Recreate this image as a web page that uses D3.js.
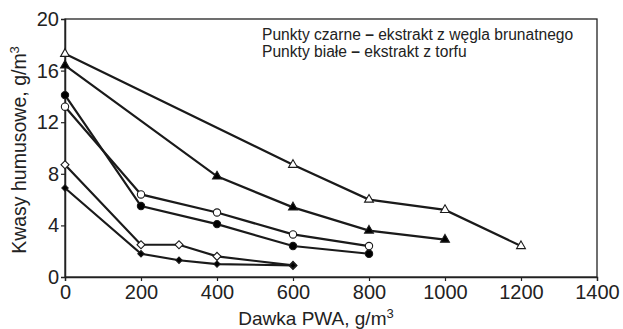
<!DOCTYPE html>
<html>
<head>
<meta charset="utf-8">
<script src="https://cdn.jsdelivr.net/npm/d3@7"></script>
<style>
  body { margin: 0; background: #fff; }
  svg { display: block; font-family: "Liberation Sans", Arial, sans-serif; }
</style>
</head>
<body>
<div id="chart"></div>
<script>
// dose of PWA, g/m3 and humic acid content, g/m3
var openTriX = [0, 600, 800, 1000, 1200];
var openTriY = [17.3, 8.7, 6.0, 5.2, 2.4];
var fillTriX = [0, 400, 600, 800, 1000];
var fillTriY = [16.4, 7.8, 5.4, 3.6, 2.9];
var openCircX = [0, 200, 400, 600, 800];
var openCircY = [13.2, 6.4, 5.0, 3.3, 2.4];
var fillCircX = [0, 200, 400, 600, 800];
var fillCircY = [14.1, 5.5, 4.1, 2.4, 1.8];
var openDiaX = [0, 200, 300, 400, 600];
var openDiaY = [8.7, 2.5, 2.5, 1.6, 0.9];
var fillDiaX = [0, 200, 300, 400, 600];
var fillDiaY = [6.9, 1.8, 1.3, 1.0, 0.9];

var xTicks = [0, 200, 400, 600, 800, 1000, 1200, 1400];
var yTicks = [0, 4, 8, 12, 16, 20];
var legendLines = ["Punkty czarne", "Punkty białe"];
var legendTexts = ["ekstrakt z węgla brunatnego", "ekstrakt z torfu"];

var w = 623, h = 329;
var mLeft = 65, mRight = 597, mTop = 19, mBottom = 277;

var series = [
  {x: openTriX, y: openTriY, sym: d3.symbolTriangle, fill: "#fff", size: 34, rot: 0},
  {x: fillTriX, y: fillTriY, sym: d3.symbolTriangle, fill: "#000", size: 34, rot: 0},
  {x: openCircX, y: openCircY, sym: d3.symbolCircle, fill: "#fff", size: 42, rot: 0},
  {x: fillCircX, y: fillCircY, sym: d3.symbolCircle, fill: "#000", size: 42, rot: 0},
  {x: openDiaX, y: openDiaY, sym: d3.symbolSquare, fill: "#fff", size: 32, rot: 45},
  {x: fillDiaX, y: fillDiaY, sym: d3.symbolSquare, fill: "#000", size: 20, rot: 45}
];

var svg = d3.select("#chart").append("svg")
  .attr("width", w)
  .attr("height", h);

var xScale = d3.scaleLinear().domain([0, 1400]).range([mLeft, mRight]);
var yScale = d3.scaleLinear().domain([0, 20]).range([mBottom, mTop]);

// frame
svg.append("rect")
  .attr("x", mLeft).attr("y", mTop)
  .attr("width", mRight - mLeft).attr("height", mBottom - mTop)
  .attr("fill", "none")
  .attr("stroke", "#222")
  .attr("stroke-width", 1.3);

var xAxis = d3.axisBottom(xScale).tickValues(xTicks).tickFormat(d3.format("d"))
  .tickSize(4).tickPadding(4);
var yAxis = d3.axisLeft(yScale).tickValues(yTicks).tickFormat(d3.format("d"))
  .tickSize(4).tickPadding(2);

var gx = svg.append("g").attr("transform", "translate(0," + mBottom + ")").call(xAxis);
var gy = svg.append("g").attr("transform", "translate(" + mLeft + ",0)").call(yAxis);

[gx, gy].forEach(function(g) {
  g.select(".domain").attr("stroke", "#222").attr("stroke-width", 1.5);
  g.selectAll(".tick line").attr("stroke", "#222").attr("stroke-width", 1.2);
  g.selectAll(".tick text")
    .attr("fill", "#222")
    .style("font-size", "20px")
    .style("font-family", "Liberation Sans, Arial, sans-serif");
});
gx.selectAll(".tick").filter(function(d) { return d === 0 || d === 1400; }).select("line").remove();
gy.selectAll(".tick").filter(function(d) { return d === 0 || d === 20; }).select("line").remove();

// axis titles
var xt = svg.append("text")
  .attr("x", 316).attr("y", 325)
  .attr("text-anchor", "middle")
  .attr("fill", "#222")
  .style("font-size", "19px");
xt.append("tspan").text("Dawka PWA, g/m");
xt.append("tspan").attr("dy", -7).style("font-size", "13px").text("3");

var yt = svg.append("text")
  .attr("transform", "translate(26,150) rotate(-90)")
  .attr("text-anchor", "middle")
  .attr("fill", "#222")
  .style("font-size", "19.5px");
yt.append("tspan").text("Kwasy humusowe, g/m");
yt.append("tspan").attr("dy", -7).style("font-size", "13px").text("3");

// lines and markers
var line = d3.line()
  .x(function(d) { return xScale(d[0]); })
  .y(function(d) { return yScale(d[1]); });

series.forEach(function(s) {
  var pts = s.x.map(function(v, i) { return [v, s.y[i]]; });
  svg.append("path")
    .attr("d", line(pts))
    .attr("fill", "none")
    .attr("stroke", "#1a1a1a")
    .attr("stroke-width", 2.2);
});

series.forEach(function(s) {
  var pts = s.x.map(function(v, i) { return [v, s.y[i]]; });
  svg.append("g").selectAll("path")
    .data(pts)
    .enter().append("path")
    .attr("d", d3.symbol().type(s.sym).size(s.size))
    .attr("transform", function(d) {
      return "translate(" + xScale(d[0]) + "," + yScale(d[1]) + ") rotate(" + s.rot + ")";
    })
    .attr("fill", s.fill)
    .attr("stroke", "#1a1a1a")
    .attr("stroke-width", 1.1);
});

// legend note
legendLines.forEach(function(t, i) {
  var txt = svg.append("text")
    .attr("x", 262).attr("y", 40 + i * 17)
    .attr("fill", "#222")
    .style("font-size", "15.6px");
  txt.append("tspan").text(t + " ");
  txt.append("tspan").style("font-weight", "bold").text("–");
  txt.append("tspan").text(" " + legendTexts[i]);
});
</script>
</body>
</html>
